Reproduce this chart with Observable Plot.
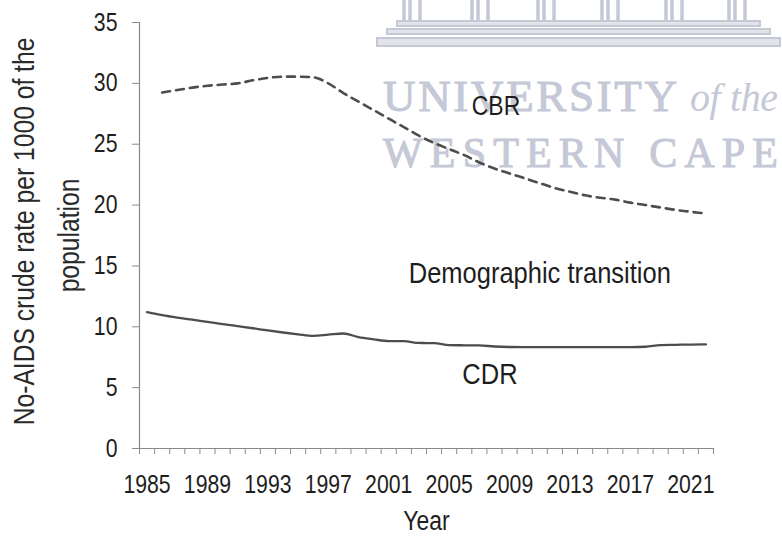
<!DOCTYPE html>
<html>
<head>
<meta charset="utf-8">
<script src="https://cdn.jsdelivr.net/npm/d3@7"></script>
<script src="https://cdn.jsdelivr.net/npm/@observablehq/plot@0.6"></script>
<style>
  html, body { margin: 0; padding: 0; background: #fff; }
  #wrap { position: relative; width: 782px; height: 544px; }
  #wm { position: absolute; left: 0; top: 0; }
  #chart { position: absolute; left: 0; top: 0; }
</style>
</head>
<body>
<div id="wrap"><svg id="wm" width="782" height="544"></svg><div id="chart"></div></div>
<script>
// Years
const cdrYears = d3.range(1985, 2023);
const cbrYears = d3.range(1986, 2023);
// Crude death rate (per 1000), 1985–2022
const cdrValues = [11.2, 10.95, 10.75, 10.58, 10.4, 10.22, 10.05, 9.88, 9.7, 9.53,
  9.38, 9.25, 9.35, 9.45, 9.15, 8.97, 8.82, 8.82, 8.67, 8.66,
  8.5, 8.48, 8.47, 8.38, 8.34, 8.33, 8.33, 8.33, 8.33, 8.33,
  8.33, 8.33, 8.33, 8.36, 8.5, 8.52, 8.54, 8.55];
// Crude birth rate (per 1000), 1986–2022
const cbrValues = [29.25, 29.45, 29.65, 29.8, 29.9, 30.0, 30.25, 30.45, 30.55, 30.55,
  30.5, 30.0, 29.2, 28.5, 27.8, 27.1, 26.4, 25.7, 25.1, 24.6,
  24.1, 23.5, 23.0, 22.6, 22.2, 21.8, 21.4, 21.1, 20.8, 20.6,
  20.45, 20.2, 20.0, 19.8, 19.6, 19.45, 19.3];
const xTickLabels = [1985, 1989, 1993, 1997, 2001, 2005, 2009, 2013, 2017, 2021];
const yTicks = [0, 5, 10, 15, 20, 25, 30, 35];
const categoryEdges = d3.range(1984.5, 2023, 1);
const annotations = [
  {year: 2008.1, value: 28.1, text: "CBR", size: 27},
  {year: 2011.0, value: 14.35, text: "Demographic transition", size: 30},
  {year: 2007.7, value: 6.13, text: "CDR", size: 30}
];
const yTitle = ["No-AIDS crude rate per 1000 of the", "population"];
const xTitle = "Year";

const cdr = cdrYears.map((y, i) => ({year: y, value: cdrValues[i]}));
const cbr = cbrYears.map((y, i) => ({year: y, value: cbrValues[i]}));

const ink = "#1e1e1e";
const lineInk = "#4d4d4d";
const axisInk = "#8a8a8a";
const font = "'Liberation Sans', Arial, sans-serif";

const chart = Plot.plot({
  width: 782,
  height: 544,
  marginLeft: 139,
  marginRight: 69,
  marginTop: 22,
  marginBottom: 96,
  style: {fontFamily: font, background: "transparent", overflow: "visible"},
  x: {domain: [1984.5, 2022.5]},
  y: {domain: [0, 35]},
  marks: [
    Plot.ruleY([0], {stroke: axisInk, strokeWidth: 1.2}),
    Plot.ruleX([1984.5], {stroke: axisInk, strokeWidth: 1.2}),
    Plot.axisX(categoryEdges, {tickSize: 6, text: null, stroke: axisInk, label: null}),
    Plot.axisX(xTickLabels, {tickSize: 0, tickPadding: 27, tickFormat: d => String(d), fontSize: 25, fill: ink, label: null}),
    Plot.axisY(yTicks, {tickSize: 7, tickPadding: 15, stroke: axisInk, fontSize: 25, fill: ink, label: null}),
    Plot.lineY(cdr, {x: "year", y: "value", stroke: lineInk, strokeWidth: 2.3, curve: "monotone-x"}),
    Plot.lineY(cbr, {x: "year", y: "value", stroke: lineInk, strokeWidth: 2.6, strokeDasharray: "8,6", curve: "monotone-x"}),
    Plot.text(annotations.filter(d => d.size === 27), {x: "year", y: "value", text: "text", fontSize: 27, fill: ink}),
    Plot.text(annotations.filter(d => d.size === 30), {x: "year", y: "value", text: "text", fontSize: 30, fill: ink}),
    Plot.text([yTitle[0]], {frameAnchor: "left", textAnchor: "middle", dx: -115, dy: -4, rotate: -90, fontSize: 29, fill: "#2a2a2a"}),
    Plot.text([yTitle[1]], {frameAnchor: "left", textAnchor: "middle", dx: -70, rotate: -90, fontSize: 29, fill: "#2a2a2a"}),
    Plot.text([xTitle], {frameAnchor: "bottom", dy: 81, fontSize: 27, fill: ink})
  ]
});
document.getElementById("chart").appendChild(chart);

// The original uses a narrow sans face: compress every label along its own reading direction
d3.select(chart).selectAll("text").each(function() {
  const t = this.getAttribute("transform") || "";
  const x = +(this.getAttribute("x") || 0);
  this.setAttribute("transform", `${t} translate(${x},0) scale(0.85,1) translate(${-x},0)`);
});

// faint scanned watermark behind the chart
const wm = d3.select("#wm");
const wmInk = "#c5c8d6";
const serif = "'Liberation Serif', 'DejaVu Serif', serif";
wm.append("text").attr("x", 383).attr("y", 111).attr("font-family", serif).attr("stroke", wmInk).attr("stroke-width", 1)
  .attr("font-size", 45).attr("fill", wmInk).attr("textLength", 294).attr("lengthAdjust", "spacing").text("UNIVERSITY");
wm.append("text").attr("x", 690).attr("y", 111).attr("font-family", serif)
  .attr("font-style", "italic").attr("font-size", 40).attr("fill", wmInk).attr("textLength", 88).text("of the");
wm.append("text").attr("x", 383).attr("y", 167).attr("font-family", serif).attr("stroke", wmInk).attr("stroke-width", 1)
  .attr("font-size", 42).attr("fill", wmInk).attr("textLength", 395).attr("lengthAdjust", "spacing").text("WESTERN CAPE");
// building base of the crest
[[377, 38, 403, 8], [387, 29, 383, 5], [397, 21, 363, 5]].forEach(([x, y, w, h]) =>
  wm.append("rect").attr("x", x).attr("y", y).attr("width", w).attr("height", h)
    .attr("fill", "#e3e4ea").attr("stroke", wmInk).attr("stroke-width", 2));
[412, 480, 546, 610, 674, 737].forEach(cx => {
  [-8, -2, 8].forEach(o => wm.append("line").attr("x1", cx + o).attr("x2", cx + o).attr("y1", 0).attr("y2", 21)
    .attr("stroke", wmInk).attr("stroke-width", 3.5));
});
</script>
</body>
</html>
